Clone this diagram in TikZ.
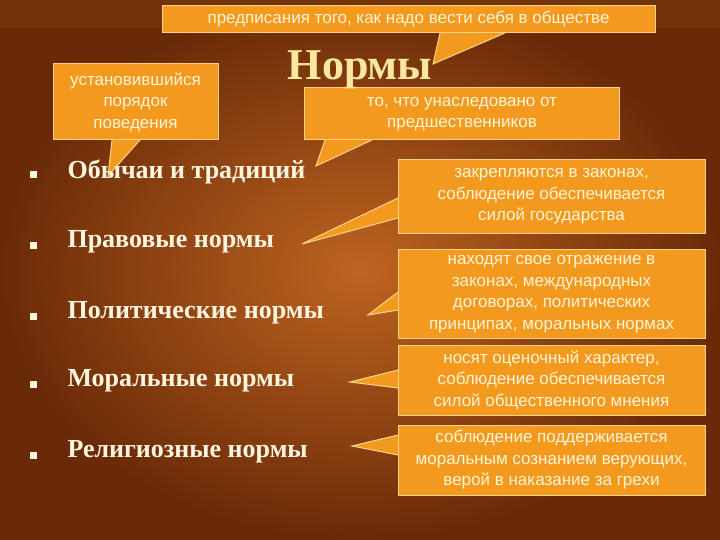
\documentclass[tikz,border=0pt]{standalone}
\usepackage{fontspec}
\setmainfont{Liberation Serif}
\newfontfamily\cf{Liberation Sans}
\begin{document}
\begin{tikzpicture}[x=1pt,y=-1pt,
  ptr/.style={fill=boxor,draw=boxln,line width=1pt,line join=miter},
  cbox/.style={fill=boxor,draw=boxln,line width=1pt,inner sep=0pt,align=center,text=boxtx,font=\cf\fontsize{17}{21.5}\selectfont},
  item/.style={anchor=west,text=itemtx,font=\bfseries\fontsize{26}{28}\selectfont},
  bul/.style={fill=itemtx,minimum size=7pt,inner sep=0pt}]
\definecolor{boxor}{HTML}{F39A1E}
\definecolor{boxln}{HTML}{FBD48C}
\definecolor{boxtx}{HTML}{FFF4D8}
\definecolor{itemtx}{HTML}{FFF6E0}
\definecolor{bgin}{HTML}{BE6420}
\definecolor{bgout}{HTML}{6A2A08}
\definecolor{titc}{HTML}{FBE8A0}
\useasboundingbox (0,0) rectangle (720,540);
\shade[inner color=bgin,outer color=bgout] (0,0) rectangle (720,540);
\fill[bgin!70!black,opacity=.3] (0,0) rectangle (720,28);
% pointers
\draw[ptr] (440,33) -- (433,64) -- (505,33);
\draw[ptr] (112,140) -- (108,176) -- (140,140);
\draw[ptr] (325,140) -- (316,166) -- (372,140);
\draw[ptr] (398,198) -- (302,244) -- (398,218);
\draw[ptr] (398,292) -- (368,315) -- (398,310);
\draw[ptr] (398,370) -- (350,382) -- (398,388);
\draw[ptr] (398,435) -- (352,446) -- (398,455);
% boxes
\node[cbox,minimum width=493pt,minimum height=27pt] (b1) at (408.5,19.5) {предписания того, как надо вести себя в обществе};
\node[cbox,minimum width=165pt,minimum height=76pt] (b2) at (135.5,102) {установившийся\\порядок\\поведения};
\node[cbox,minimum width=315pt,minimum height=52pt] (b3) at (462,114) {то, что унаследовано от\\предшественников};
\node[cbox,minimum width=307pt,minimum height=73pt] (b4) at (551.5,196.5) {закрепляются в законах,\\соблюдение обеспечивается\\силой государства};
\node[cbox,minimum width=307pt,minimum height=89pt] (b5) at (551.5,294) {находят свое отражение в\\законах, международных\\договорах, политических\\принципах, моральных нормах};
\node[cbox,minimum width=307pt,minimum height=70pt] (b6) at (551.5,380) {носят оценочный характер,\\соблюдение обеспечивается\\силой общественного мнения};
\node[cbox,minimum width=307pt,minimum height=70pt] (b7) at (551.5,460) {соблюдение поддерживается\\моральным сознанием верующих,\\верой в наказание за грехи};
% title
\node[text=titc,font=\bfseries\fontsize{44}{48}\selectfont] (t) at (360,70) {Нормы};
% items
\foreach \y/\t [count=\i] in {172/Обычаи и традиций,242/Правовые нормы,313/Политические нормы,381/Моральные нормы,452/Религиозные нормы}{
  \node[bul] (d\i) at (33,\y+3) {};
  \node[item] (i\i) at (64,\y) {\t};
}
\end{tikzpicture}
\end{document}
